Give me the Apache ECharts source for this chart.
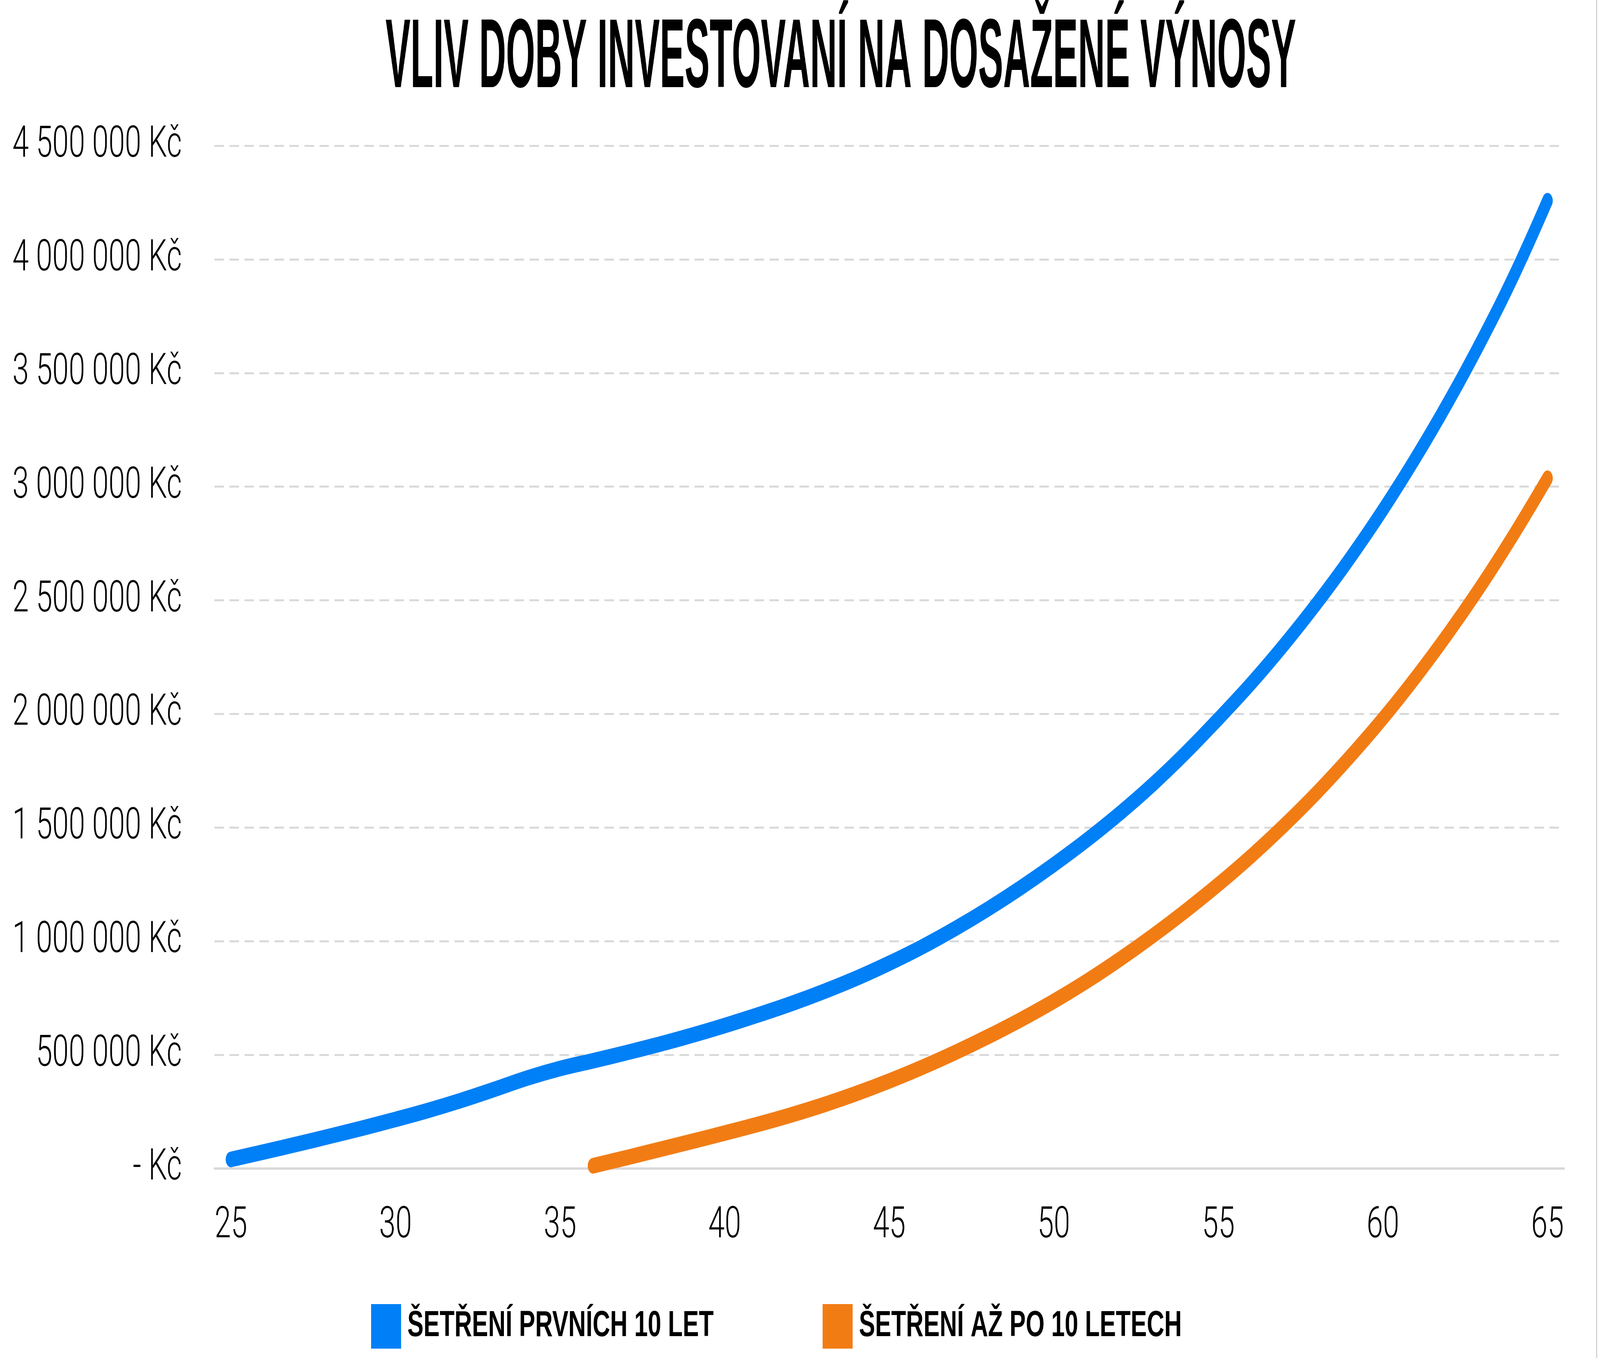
<!DOCTYPE html>
<html lang="cs">
<head>
    <meta charset="UTF-8">
    <title>Vliv doby investování na dosažené výnosy</title>
    <script src="https://cdn.jsdelivr.net/npm/echarts@6/dist/echarts.min.js"></script>
    <style>
    html, body {
        margin: 0;
        padding: 0;
        width: 100%;
        height: 100%;
        overflow: hidden;
        background: #fff;
    }
    #chart {
        position: absolute;
        top: 0;
        left: 0;
        width: 6080px;
        height: 3476px;
        transform-origin: 0 0;
    }
    </style>
</head>
<body>
    <div id="chart"></div>
    <script type="text/javascript">
    // vek 25 .. 65
    var ages = [];
    for (var a = 25; a <= 65; a++) {
        ages.push(String(a));
    }

    var seriesNames = ['ŠETŘENÍ PRVNÍCH 10 LET', 'ŠETŘENÍ AŽ PO 10 LETECH'];

    // (Kč)
    var prvnich10 = [
        40000, 73000, 107000, 142000, 178000, 216000, 256000, 300000, 348000, 398000,
        440000, 474000, 509000, 546000, 586000, 629000, 675000, 724000, 778000, 837000,
        903000, 975000, 1055000, 1142000, 1236000, 1337000, 1445000, 1562000, 1689000, 1828000,
        1978000, 2135000, 2305000, 2488000, 2685000, 2898000, 3128000, 3376000, 3644000, 3935000,
        4258000
    ];

    var poDeseti = [
        null, null, null, null, null, null, null, null, null, null,
        null, 12000, 47000, 83000, 119000, 156000, 194000, 235000, 280000, 330000,
        385000, 445000, 510000, 580000, 655000, 736000, 824000, 920000, 1023000, 1133000,
        1250000, 1375000, 1510000, 1655000, 1812000, 1980000, 2162000, 2358000, 2568000, 2795000,
        3037000
    ];

    var colors = ['#0080F6', '#F27C14'];

    // graf se kresli v rozmeru 6080 x 3476 a pak se roztahne na okno
    var el = document.getElementById('chart');
    var fitToWindow = function() {
        var sx = window.innerWidth / 6080;
        var sy = window.innerHeight / 3476;
        el.style.transform = 'scale(' + sx + ',' + sy + ')';
    };
    fitToWindow();

    var formatKc = function(v) {
        if (v === 0) {
            return '- Kč';
        }
        return String(v).replace(/\B(?=(\d{3})+(?!\d))/g, ' ') + ' Kč';
    };

    var chart = echarts.init(el);

    var option = {
        backgroundColor: '#ffffff',
        animation: false,
        color: colors,
        graphic: [{
            type: 'text',
            x: 3195,
            y: 154,
            scaleX: 0.566,
            style: {
                text: 'VLIV DOBY INVESTOVANÍ NA DOSAŽENÉ VÝNOSY',
                fontFamily: 'Liberation Sans, Arial, sans-serif',
                fontWeight: 'bold',
                fontSize: 251,
                fill: '#000000',
                textAlign: 'center',
                textVerticalAlign: 'middle'
            }
        }, {
            // tenky okraj vpravo
            type: 'line',
            shape: { x1: 6067, y1: 0, x2: 6067, y2: 3476 },
            style: { stroke: '#BFBFBF', lineWidth: 3 }
        }],
        legend: {
            left: 1410,
            top: 3338,
            padding: 0,
            itemWidth: 114,
            itemHeight: 114,
            itemGap: 414,
            icon: 'rect',
            data: seriesNames,
            textStyle: {
                fontFamily: 'Liberation Sans, Arial, sans-serif',
                fontWeight: 'bold',
                fontSize: 92,
                color: '#000000',
                padding: [0, 0, 0, 19]
            }
        },
        grid: {
            left: 815,
            right: 137,
            top: 373,
            bottom: 485,
            containLabel: false
        },
        xAxis: {
            type: 'category',
            data: ages,
            boundaryGap: true,
            axisTick: { show: false },
            axisLine: {
                lineStyle: { color: '#D9D9D9', width: 6 }
            },
            axisLabel: {
                interval: 4,
                margin: 92,
                fontFamily: 'Roboto, sans-serif',
                fontWeight: 300,
                fontSize: 112,
                color: '#000000'
            },
            splitLine: { show: false }
        },
        yAxis: {
            type: 'value',
            min: 0,
            max: 4500000,
            interval: 500000,
            axisLine: { show: false },
            axisTick: { show: false },
            axisLabel: {
                margin: 124,
                formatter: formatKc,
                fontFamily: 'Roboto, sans-serif',
                fontWeight: 300,
                fontSize: 112,
                color: '#000000'
            },
            splitLine: {
                lineStyle: {
                    color: '#D9D9D9',
                    width: 5,
                    type: [36, 21]
                }
            }
        },
        series: [{
            name: seriesNames[0],
            type: 'line',
            data: prvnich10,
            smooth: 0.4,
            symbol: 'none',
            lineStyle: { width: 40, color: colors[0], cap: 'round', join: 'round' },
            itemStyle: { color: colors[0] }
        }, {
            name: seriesNames[1],
            type: 'line',
            data: poDeseti,
            smooth: 0.4,
            symbol: 'none',
            connectNulls: false,
            lineStyle: { width: 40, color: colors[1], cap: 'round', join: 'round' },
            itemStyle: { color: colors[1] }
        }]
    };

    chart.setOption(option);

    window.addEventListener('resize', function() {
        fitToWindow();
    });
    </script>
</body>
</html>
